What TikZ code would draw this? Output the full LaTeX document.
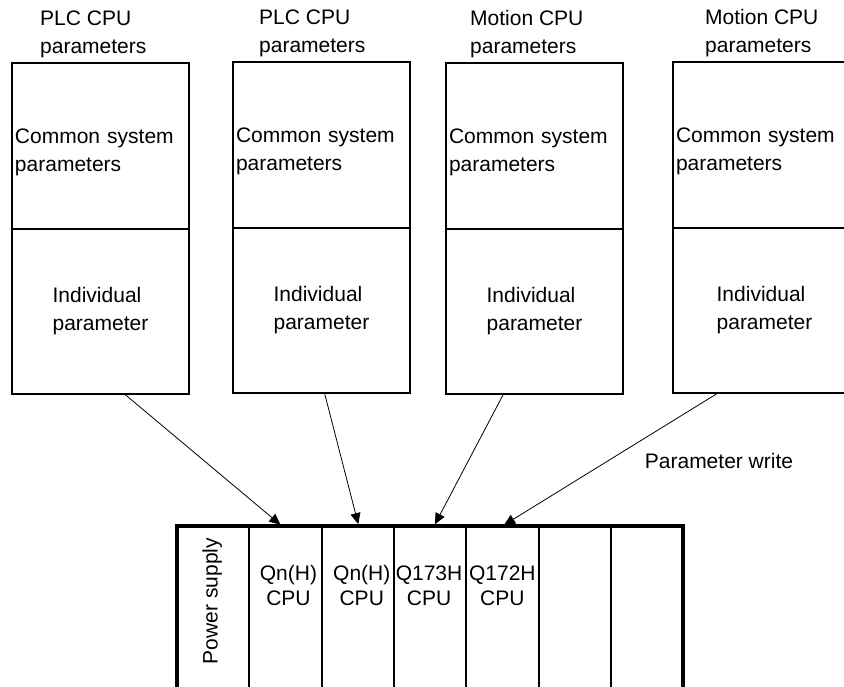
\documentclass[tikz,border=0pt]{standalone}
\usepackage{fontspec}
\setmainfont{Liberation Sans}
\usetikzlibrary{positioning,arrows.meta}

\tikzset{
	commonBox/.style={rectangle, draw, line width=1.2pt, outer sep=0pt, minimum width=177pt, minimum height=166pt, text width=171pt, inner sep=3pt, align=left, execute at begin node={\rule{0pt}{28pt}}},
	individualBox/.style={rectangle, draw, line width=1.2pt, outer sep=0pt, minimum width=177pt, minimum height=165pt, align=left, execute at begin node={\rule{0pt}{31pt}}},
	cpuTitle/.style={anchor=south west, inner sep=0pt, align=left},
	rackSlot/.style={rectangle, draw, line width=2pt, outer sep=0pt, minimum width=72.3pt, minimum height=200pt, inner sep=0pt},
	slotText/.style={inner sep=0pt, align=center},
	writeArrow/.style={-{Triangle[length=11pt,width=10pt]}, line width=0.8pt, shorten >=2pt}
}

\begin{document}
\begin{tikzpicture}[x=1pt, y=-1pt, font=\fontsize{21}{28}\selectfont]
		
		\useasboundingbox (0,0) rectangle (844,686);
		\clip (0,0) rectangle (844,686);
		
		%Parameter boxes
		\node (firstCommon) at (12,63) [commonBox, anchor=north west]{Common system\\parameters};
		\node (firstIndividual) [individualBox, below=0pt of firstCommon]{Individual\\parameter};
		\node (secondCommon) at (233,62) [commonBox, anchor=north west]{Common system\\parameters};
		\node (secondIndividual) [individualBox, below=0pt of secondCommon]{Individual\\parameter};
		\node (thirdCommon) at (446,63) [commonBox, anchor=north west]{Common system\\parameters};
		\node (thirdIndividual) [individualBox, below=0pt of thirdCommon]{Individual\\parameter};
		\node (fourthCommon) at (673,62) [commonBox, anchor=north west, minimum width=183pt, text width=177pt]{Common system\\parameters};
		\node (fourthIndividual) [individualBox, below=0pt of fourthCommon, minimum width=183pt]{Individual\\parameter};
		
		%Titles
		\node (firstTitle) at ([xshift=28pt, yshift=5pt]firstCommon.north west) [cpuTitle]{PLC CPU\\parameters};
		\node (secondTitle) at ([xshift=26pt, yshift=5pt]secondCommon.north west) [cpuTitle]{PLC CPU\\parameters};
		\node (thirdTitle) at ([xshift=24pt, yshift=5pt]thirdCommon.north west) [cpuTitle]{Motion CPU\\parameters};
		\node (fourthTitle) at ([xshift=32pt, yshift=5pt]fourthCommon.north west) [cpuTitle]{Motion CPU\\parameters};
		
		%Rack slots
		\node (firstSlot) at (213.15,526) [rackSlot, anchor=north]{};
		\node (secondSlot) [rackSlot, right=0pt of firstSlot]{};
		\node (thirdSlot) [rackSlot, right=0pt of secondSlot]{};
		\node (fourthSlot) [rackSlot, right=0pt of thirdSlot]{};
		\node (fifthSlot) [rackSlot, right=0pt of fourthSlot]{};
		\node (sixthSlot) [rackSlot, right=0pt of fifthSlot]{};
		\node (seventhSlot) [rackSlot, right=0pt of sixthSlot]{};
		\draw[line width=3.5pt] (firstSlot.south west) -- (firstSlot.north west) -- (seventhSlot.north east) -- (seventhSlot.south east);
		
		%Slot names
		\node (powerText) at ([xshift=-1pt, yshift=-75pt]firstSlot.north) [slotText, rotate=90]{Power supply};
		\node (secondText) at ([xshift=3pt, yshift=-59.5pt]secondSlot.north) [slotText]{Qn(H)\\[-3pt]CPU};
		\node (thirdText) at ([xshift=4pt, yshift=-59.5pt]thirdSlot.north) [slotText]{Qn(H)\\[-3pt]CPU};
		\node (fourthText) at ([xshift=-1pt, yshift=-59.5pt]fourthSlot.north) [slotText]{Q173H\\[-3pt]CPU};
		\node (fifthText) at ([yshift=-59.5pt]fifthSlot.north) [slotText]{Q172H\\[-3pt]CPU};
		
		%Arrows
		\draw[writeArrow] ([xshift=24pt]firstIndividual.south) -- ([xshift=-3.5pt]secondSlot.north);
		\draw[writeArrow] ([xshift=3pt]secondIndividual.south) -- ([xshift=1pt]thirdSlot.north);
		\draw[writeArrow] ([xshift=-31pt]thirdIndividual.south) -- ([xshift=4pt]fourthSlot.north);
		\draw[writeArrow] ([xshift=-46.5pt]fourthIndividual.south) -- (fifthSlot.north);
		
		%Names
		\node (writeLabel) at (719,461) {Parameter write};
		
\end{tikzpicture}
\end{document}
